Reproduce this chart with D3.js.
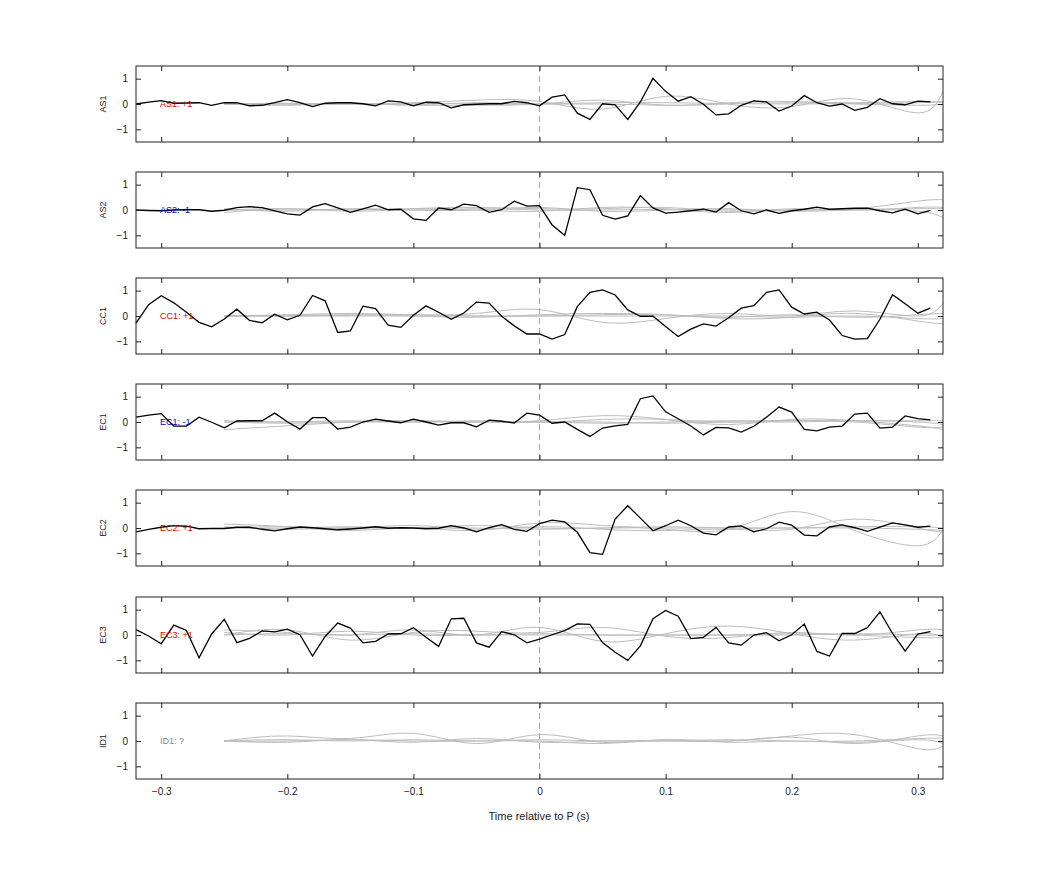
<!DOCTYPE html>
<html><head><meta charset="utf-8">
<script src="https://cdn.jsdelivr.net/npm/d3@7"></script>
<style>body{margin:0;background:#fff;font-family:"Liberation Sans",Arial,sans-serif}</style>
</head><body><svg id="c" width="1042" height="875"></svg>
<script>
const channels = ["AS1","AS2","CC1","EC1","EC2","EC3","ID1"];
const labels = ["AS1: +1","AS2: -1","CC1: +1","EC1: -1","EC2: +1","EC3: +1","ID1: ?"];
const labelColors = ["#d00","#00c","#d00","#00c","#d00","#d00","#888"];
const xTicks = [-0.3,-0.2,-0.1,0,0.1,0.2,0.3];
const yTicks = [-1,0,1];
const t0 = -0.32, dt = 0.01;
const AS1 = [0,0.07,0.13,0.03,0.04,0.05,-0.05,0.05,0.05,-0.07,-0.05,0.05,0.17,0.05,-0.1,0.03,0.05,0.05,0.01,-0.07,0.12,0.08,-0.07,0.07,0.05,-0.15,-0.03,-0.01,0.01,0.01,0.1,0.05,-0.07,
 0.27,0.36,-0.36,-0.61,0.01,-0.03,-0.61,0.08,1.01,0.5,0.11,0.29,-0.01,-0.43,-0.39,-0.05,0.12,0.08,-0.28,-0.08,0.33,0.05,-0.08,0,-0.25,-0.13,0.21,0.01,-0.03,0.11,0.08];
const AS2 = [0,-0.02,-0.03,0,0.01,0.01,-0.05,-0.01,0.09,0.13,0.09,-0.03,-0.15,-0.2,0.12,0.25,0.08,-0.09,0.04,0.19,0.01,0.03,-0.35,-0.41,0.08,0.01,0.23,0.17,-0.09,0.01,0.35,0.15,0.17,
 -0.59,-1.0,0.88,0.8,-0.21,-0.36,-0.23,0.57,0.08,-0.12,-0.08,-0.03,0.03,-0.08,0.29,-0.03,-0.15,0,-0.13,-0.03,0.03,0.11,0.03,0.05,0.07,0.07,-0.03,-0.11,0.03,-0.15,-0.01];
const CC1 = [-0.28,0.45,0.8,0.52,0.15,-0.25,-0.43,-0.12,0.27,-0.17,-0.27,0.07,-0.15,0.03,0.81,0.6,-0.65,-0.59,0.39,0.29,-0.36,-0.45,0.03,0.4,0.15,-0.13,0.12,0.55,0.51,-0.01,-0.39,-0.71,-0.71,
 -0.91,-0.73,0.37,0.93,1.03,0.83,0.24,-0.01,-0.01,-0.41,-0.81,-0.52,-0.31,-0.4,-0.07,0.31,0.41,0.93,1.03,0.35,0.08,0.15,-0.16,-0.77,-0.91,-0.89,-0.13,0.84,0.48,0.11,0.31];
const EC1 = [0.19,0.27,0.33,-0.16,-0.16,0.19,-0.01,-0.23,0.04,0.05,0.05,0.35,0.01,-0.28,0.17,0.17,-0.28,-0.2,0,0.11,0.04,-0.03,0.11,0,-0.12,-0.03,-0.03,-0.19,0.07,0.03,-0.04,0.35,0.27,
 -0.05,0,-0.29,-0.57,-0.24,-0.15,-0.09,0.92,1.03,0.4,0.13,-0.16,-0.51,-0.21,-0.23,-0.4,-0.17,0.19,0.59,0.39,-0.29,-0.35,-0.2,-0.16,0.31,0.35,-0.24,-0.2,0.24,0.13,0.08];
const EC2 = [-0.15,-0.05,0.03,0.09,0.07,-0.03,-0.02,-0.02,0.03,0.03,-0.05,-0.11,-0.03,0.04,0.01,-0.03,-0.07,-0.04,0,0.05,-0.01,0.01,0,-0.03,-0.01,0.09,0,-0.15,0.01,0.13,-0.05,-0.13,0.17,
 0.31,0.24,-0.17,-0.97,-1.04,0.35,0.88,0.39,-0.11,0.09,0.31,0.09,-0.2,-0.27,0.04,0.08,-0.15,-0.03,0.23,0.11,-0.28,-0.31,0.04,0.12,0.01,-0.13,0.03,0.2,0.12,0.03,0.07];
const EC3 = [0.21,-0.04,-0.35,0.39,0.18,-0.9,0.04,0.62,-0.3,-0.13,0.16,0.12,0.23,0.01,-0.83,-0.06,0.47,0.27,-0.31,-0.25,0.04,0.05,0.29,-0.09,-0.45,0.64,0.66,-0.31,-0.48,0.13,0.01,-0.31,-0.16,
 0.01,0.17,0.44,0.42,-0.3,-0.68,-1.0,-0.43,0.64,0.97,0.74,-0.14,-0.09,0.3,-0.31,-0.4,0,0.09,-0.23,0.01,0.43,-0.65,-0.83,0.06,0.06,0.29,0.91,0.06,-0.64,0.04,0.13];
const blackSeries = [AS1,AS2,CC1,EC1,EC2,EC3,null];
// gray traces: control values at these times
const grayTimes = [-0.25,-0.2,-0.15,-0.1,-0.05,0,0.05,0.1,0.15,0.2,0.25,0.3,0.32];
const grayAS1 = [[0,0.02,0,0.05,0.15,0.1,-0.2,0.3,0.0,-0.1,0.2,-0.35,0.5],[0,-0.03,0.02,-0.05,-0.05,0,0.15,-0.05,0.05,0.1,0.05,0.1,0.05],[0,0.03,0,0.02,0,0,0.05,0.05,0.02,0,0.02,0.05,0.1],[0,-0.05,0,-0.03,0.05,0,0,-0.05,0,0.05,0,-0.05,0]];
const grayAS2 = [[-0.1,0.05,-0.05,0.05,0.1,0.05,0.05,0.1,-0.05,0,0.05,0.35,0.4],[0.05,-0.05,0.05,0,0,0.1,-0.05,0,0.05,-0.05,0,-0.05,-0.3],[0,0.05,0,0.05,0,-0.05,0.1,0.05,-0.1,0.05,0,0.1,0.1],[0,0,0.03,0,0.05,0,0,0.02,0,0,0.02,0.05,0.05]];
const grayCC1 = [[0,0.05,0.1,0.05,0.1,0.25,-0.25,-0.1,0.1,0,0.2,0,0.5],[0,0.02,0.05,0,-0.05,0.05,0.1,0.05,-0.1,-0.05,0.1,-0.2,-0.3],[0,0,0.03,0.05,0,0,0.05,0.05,-0.05,0.05,-0.05,0.05,0.1],[0,0,0,0,0,0,0,0,0,-0.05,0,-0.1,-0.1]];
const grayEC1 = [[-0.3,-0.15,0,0.05,0,0.05,0.25,0.1,-0.1,0.1,0.05,-0.15,-0.3],[0.05,0,0.05,0,0.05,0,0.1,0.1,0,0.05,0.05,0.05,0.05],[0,-0.05,0,0.05,0,0,-0.05,0,0.05,0.05,0,-0.2,-0.2],[0,0,0,0,0,0,0,-0.05,0,0,0.05,0,-0.1]];
const grayEC2 = [[0.15,0.05,-0.1,0,-0.1,0.2,0.1,-0.05,-0.05,0.65,-0.1,-0.7,-0.05],[0,0.05,0,0.1,-0.05,0.05,-0.05,-0.1,-0.05,-0.05,0.35,0,-0.15],[0.05,-0.05,0,0,0.1,0,0,0.05,0,0,0.05,0.05,0],[0,0,0.05,0,0,-0.05,0,0,0,0,0,-0.05,-0.1]];
const grayEC3 = [[0.2,0.1,0,0.2,0,0.3,-0.25,0.05,0.35,0.05,-0.2,0.05,-0.1],[0,0.2,-0.2,0.1,0.15,0.1,0.3,-0.05,-0.1,0.1,0,0.2,0.2],[0.1,0,0.15,0,0,0,0,0,0,0.05,0,-0.1,-0.1],[0,0.05,0,0.05,0,0.05,0,0,0,0,0.05,0,0]];
const grayID1 = [[0,0.2,0.1,0.3,-0.1,0.25,-0.05,0.05,0,0.15,-0.1,0.2,0.2],[0,-0.05,0.05,-0.05,0.1,-0.05,0,0,0,0.2,0.25,-0.3,-0.2],[0,0.05,0,0.05,0,0,-0.1,0.05,-0.05,0,-0.05,0.05,-0.1],[0,0,0.05,0,0,0.05,0,0,0.05,0,0,0.1,0.1]];
const graySeries = [grayAS1,grayAS2,grayCC1,grayEC1,grayEC2,grayEC3,grayID1];

const svg = d3.select("#c");
const L = 136, R = 943, panelTops = [66,172,278,384,490,597,703], H = 76;
const x = d3.scaleLinear().domain([-0.32,0.32]).range([L,R]);
channels.forEach((ch,i)=>{
  const top = panelTops[i];
  const y = d3.scaleLinear().domain([-1.5,1.5]).range([top+H,top]);
  const g = svg.append("g");
  // gray traces
  const gl = d3.line().x((d,j)=>x(grayTimes[j])).y(d=>y(d)).curve(d3.curveNatural);
  graySeries[i].forEach(s=>g.append("path").attr("d",gl(s)).attr("fill","none").attr("stroke","#bdbdbd").attr("stroke-width",1));
  // zero dashed line
  g.append("line").attr("x1",x(0)).attr("x2",x(0)).attr("y1",top).attr("y2",top+H).attr("stroke","#e88").attr("stroke-dasharray","6,4").attr("stroke-width",1);
  if (blackSeries[i]) {
    const bl = d3.line().x((d,j)=>x(t0+dt*j)).y(d=>y(d));
    g.append("path").attr("d",bl(blackSeries[i])).attr("fill","none").attr("stroke","#000").attr("stroke-width",1.3);
  }
  g.append("text").attr("x",160).attr("y",y(0)+3).attr("font-size",9).attr("fill",labelColors[i]).text(labels[i]);
  // axes
  const ax = (gen,tr)=>{const a=svg.append("g").attr("transform",tr).call(gen);a.selectAll("path,line").attr("stroke","#222");a.selectAll("text").attr("font-size",10).attr("fill","#222");return a;};
  ax(d3.axisLeft(y).tickValues(yTicks).tickSize(-5).tickPadding(8).tickFormat(d3.format("d")),`translate(${L},0)`).select(".domain").remove();
  ax(d3.axisRight(y).tickValues(yTicks).tickSize(-5).tickFormat(""),`translate(${R},0)`).select(".domain").remove();
  ax(d3.axisTop(x).tickValues(xTicks).tickSize(-5).tickFormat(""),`translate(0,${top})`).select(".domain").remove();
  const b = ax(d3.axisBottom(x).tickValues(xTicks).tickSize(-5).tickPadding(9).tickFormat(i===6?d3.format(""):""),`translate(0,${top+H})`);
  b.select(".domain").remove();
  svg.append("rect").attr("x",L).attr("y",top).attr("width",R-L).attr("height",H).attr("fill","none").attr("stroke","#222").attr("stroke-width",1);
  svg.append("text").attr("transform",`translate(106,${top+H/2}) rotate(-90)`).attr("text-anchor","middle").attr("font-size",9).attr("fill","#222").text(ch);
});
svg.append("text").attr("x",539).attr("y",820).attr("text-anchor","middle").attr("font-size",11).attr("fill","#222").text("Time relative to P (s)");
</script></body></html>
